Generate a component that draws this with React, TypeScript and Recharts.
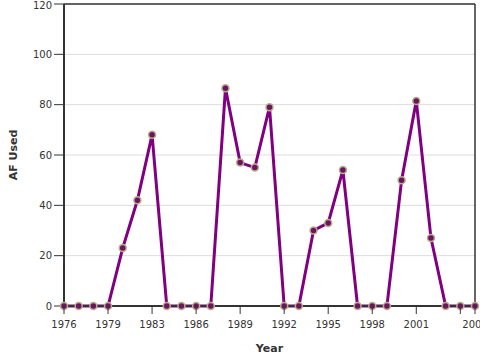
import { LineChart, Line, XAxis, YAxis, CartesianGrid, ReferenceLine } from 'recharts';

// water years (one year missing between 1979 and 1983)
const years = [
  '1976', '1977', '1978', '1979', '1980', '1981', '1983', '1984', '1985', '1986',
  '1987', '1988', '1989', '1990', '1991', '1992', '1993', '1994', '1995', '1996',
  '1997', '1998', '1999', '2000', '2001', '2002', '2003', '2004', '2005',
];
const afUsed = [
  0, 0, 0, 0, 23, 42, 68, 0, 0, 0,
  0, 86.5, 57, 55, 79, 0, 0, 30, 33, 54,
  0, 0, 0, 50, 81.5, 27, 0, 0, 0,
];
const yTicks = [0, 20, 40, 60, 80, 100, 120];

const data = years.map((year, i) => ({ year, af: afUsed[i] }));

const YearTick = (props: any) => {
  const { x, y, index } = props;
  const last = years.length - 1;
  const showLine = index % 3 === 0 || index === last;
  const showLabel = (index % 3 === 0 && index !== last - 1) || index === last;
  if (!showLine) return null;
  return (
    <g>
      <line x1={x} x2={x} y1={y} y2={y + 8} stroke="#333" strokeWidth={1} />
      {showLabel && (
        <text x={x} y={y + 22} textAnchor="middle" fontSize={10} fill="#333">
          {props.payload.value}
        </text>
      )}
    </g>
  );
};

const AxisTitleY = (props: any) => {
  const { viewBox } = props;
  const cx = viewBox.x + 13;
  const cy = viewBox.y + viewBox.height / 2;
  return (
    <text
      x={cx}
      y={cy}
      transform={`rotate(-90 ${cx} ${cy})`}
      textAnchor="middle"
      dominantBaseline="central"
      fontSize={11}
      fontWeight="bold"
      fill="#333"
    >
      AF Used
    </text>
  );
};

export default function App() {
  return (
    <div style={{ position: 'absolute', left: 0, top: 0 }}>
      <LineChart
        width={480}
        height={360}
        data={data}
        margin={{ top: 4, right: 5, bottom: 4, left: 0 }}
        style={{ fontFamily: 'DejaVu Sans' }}
      >
        <CartesianGrid vertical={false} stroke="#ddd" />
        <XAxis
          dataKey="year"
          interval={0}
          height={50}
          tickSize={0}
          tickMargin={0}
          tick={<YearTick />}
          axisLine={{ stroke: '#333', strokeWidth: 2 }}
          label={{ value: 'Year', position: 'insideBottom', offset: 4, fontSize: 11, fontWeight: 'bold', fill: '#333' }}
        />
        <YAxis
          width={64}
          domain={[0, 120]}
          ticks={yTicks}
          tickSize={10}
          tickMargin={2}
          tick={{ fontSize: 10, fill: '#333' }}
          tickLine={{ stroke: '#333' }}
          axisLine={{ stroke: '#333', strokeWidth: 2 }}
          label={<AxisTitleY />}
        />
        <ReferenceLine y={120} stroke="#333" strokeWidth={1.5} />
        <ReferenceLine x="2005" stroke="#333" strokeWidth={1.5} />
        <Line
          type="linear"
          dataKey="af"
          stroke="#800080"
          strokeWidth={3}
          dot={{ r: 3.5, fill: '#6d1460', stroke: '#b8ad8c', strokeWidth: 1.5 }}
          isAnimationActive={false}
        />
      </LineChart>
    </div>
  );
}
